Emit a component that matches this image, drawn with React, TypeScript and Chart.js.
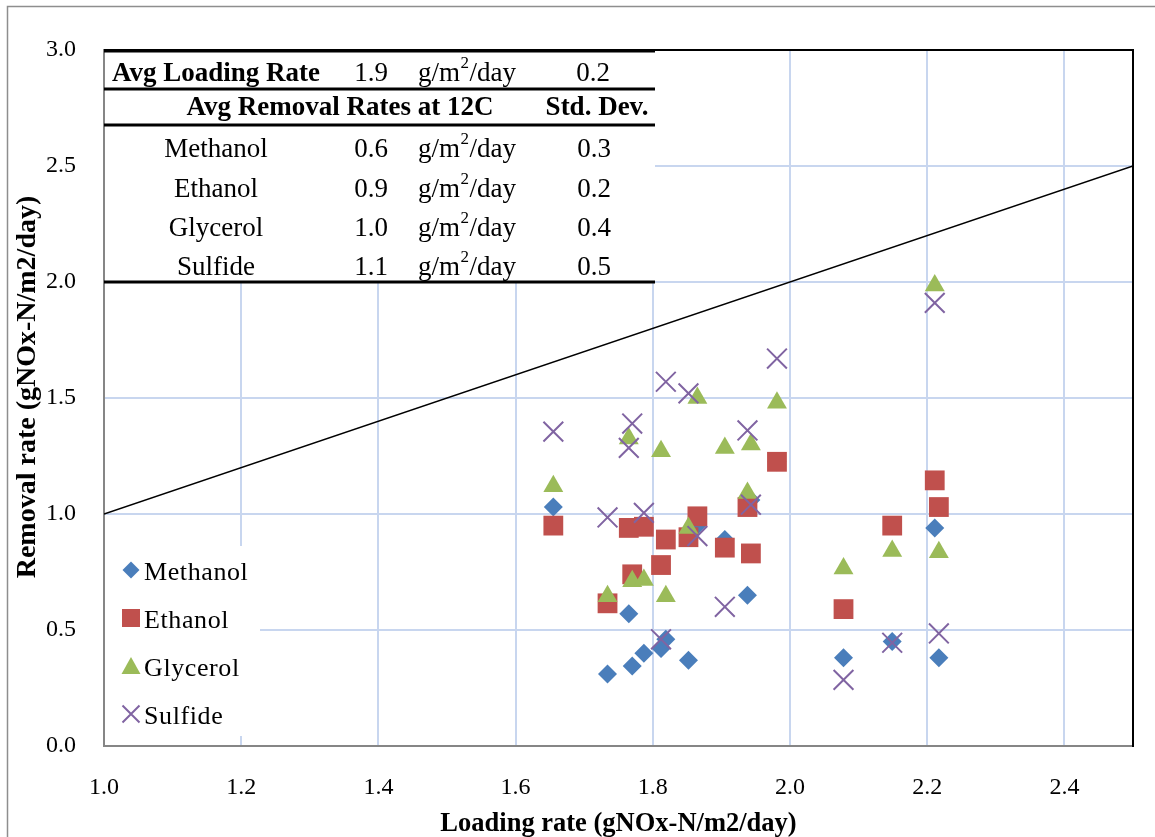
import React, { useEffect, useRef } from 'react';
import { Chart, registerables } from 'chart.js';

Chart.register(...registerables);

// ---- data ----
const loadingRate = [1.655, 1.734, 1.765, 1.77, 1.787, 1.812, 1.819, 1.852, 1.865, 1.905, 1.938, 1.943, 1.981, 2.078, 2.149, 2.211, 2.217];
const methanolRemoval = [1.03, 0.31, 0.57, 0.345, 0.4, 0.42, 0.46, 0.37, 0.95, 0.89, 0.65, 1.06, 1.225, 0.38, 0.45, 0.94, 0.38];
const ethanolRemoval = [0.95, 0.615, 0.94, 0.74, 0.945, 0.78, 0.89, 0.9, 0.99, 0.855, 1.03, 0.83, 1.225, 0.59, 0.95, 1.145, 1.03];
const glycerolRemoval = [1.12, 0.645, 1.325, 0.71, 0.715, 1.27, 0.645, 0.94, 1.5, 1.285, 1.09, 1.3, 1.48, 0.765, 0.84, 1.985, 0.835];
const sulfideRemoval = [1.355, 0.985, 1.285, 1.39, 1.005, 0.46, 1.57, 1.52, 0.905, 0.6, 1.36, 1.04, 1.67, 0.285, 0.445, 1.91, 0.485];
const seriesNames = ['Methanol', 'Ethanol', 'Glycerol', 'Sulfide'];
const seriesColors = ['#4A7EBB', '#C0504D', '#9BBB59', '#8064A2'];
const xTickValues = [1.0, 1.2, 1.4, 1.6, 1.8, 2.0, 2.2, 2.4];
const yTickValues = [0.0, 0.5, 1.0, 1.5, 2.0, 2.5, 3.0];
const oneToOneLine = [1.0, 2.5];
const avgLoadingRow = ['Avg Loading Rate', '1.9', '0.2'];
const removalHeader = ['Avg Removal Rates at 12C', 'Std. Dev.'];
const avgRemovalRate = ['0.6', '0.9', '1.0', '1.1'];
const removalStdDev = ['0.3', '0.2', '0.4', '0.5'];
const xAxisTitle = 'Loading rate (gNOx-N/m2/day)';
const yAxisTitle = 'Removal rate (gNOx-N/m2/day)';

const SERIF = '"Liberation Serif", "Times New Roman", serif';
const FS = 27;

function drawUnit(ctx: CanvasRenderingContext2D, x: number, y: number) {
  ctx.textAlign = 'left';
  ctx.font = `${FS}px ${SERIF}`;
  ctx.fillText('g/m', x, y);
  const w1 = ctx.measureText('g/m').width;
  ctx.font = `17px ${SERIF}`;
  ctx.fillText('2', x + w1 + 0.5, y - 10);
  const w2 = ctx.measureText('2').width;
  ctx.font = `${FS}px ${SERIF}`;
  ctx.fillText('/day', x + w1 + w2 + 1, y);
}

function drawMarker(ctx: CanvasRenderingContext2D, kind: number, x: number, y: number, color: string) {
  ctx.save();
  ctx.fillStyle = color;
  ctx.strokeStyle = color;
  ctx.beginPath();
  if (kind === 0) {
    const r = 8.5;
    ctx.moveTo(x, y - r); ctx.lineTo(x + r, y); ctx.lineTo(x, y + r); ctx.lineTo(x - r, y);
    ctx.closePath(); ctx.fill();
  } else if (kind === 1) {
    ctx.rect(x - 9, y - 9, 18, 18); ctx.fill();
  } else if (kind === 2) {
    ctx.moveTo(x, y - 9); ctx.lineTo(x + 9.5, y + 8); ctx.lineTo(x - 9.5, y + 8);
    ctx.closePath(); ctx.fill();
  } else {
    const r = 8.5;
    ctx.lineWidth = 2;
    ctx.moveTo(x - r, y - r); ctx.lineTo(x + r, y + r);
    ctx.moveTo(x + r, y - r); ctx.lineTo(x - r, y + r);
    ctx.stroke();
  }
  ctx.restore();
}

const overlayPlugin = {
  id: 'overlay',
  afterDraw(chart: any) {
    const ctx: CanvasRenderingContext2D = chart.ctx;
    const { left, right, top, bottom } = chart.chartArea;
    ctx.save();
    // outer border
    ctx.strokeStyle = '#8e8e8e';
    ctx.lineWidth = 1.5;
    ctx.beginPath();
    ctx.moveTo(7.5, 837); ctx.lineTo(7.5, 6.5); ctx.lineTo(1155, 6.5);
    ctx.stroke();

    // top and right plot borders
    ctx.strokeStyle = '#000';
    ctx.lineWidth = 2;
    ctx.beginPath();
    ctx.moveTo(left, top); ctx.lineTo(right, top); ctx.lineTo(right, bottom + 1);
    ctx.stroke();

    // y axis title
    ctx.save();
    ctx.translate(28, 387);
    ctx.rotate(-Math.PI / 2);
    ctx.fillStyle = '#000';
    ctx.font = `bold 28px ${SERIF}`;
    ctx.textAlign = 'center';
    ctx.textBaseline = 'middle';
    ctx.fillText(yAxisTitle, 0, 0);
    ctx.restore();

    // table
    const tL = left, tR = 655;
    ctx.fillStyle = '#fff';
    ctx.fillRect(tL + 1, top + 1, tR - tL - 1, 282 - top - 1);
    ctx.strokeStyle = '#000';
    ctx.lineWidth = 3;
    [51, 89, 125, 282].forEach((yy) => {
      ctx.beginPath(); ctx.moveTo(tL, yy); ctx.lineTo(tR, yy); ctx.stroke();
    });
    ctx.fillStyle = '#000';
    ctx.textBaseline = 'middle';
    ctx.font = `bold ${FS}px ${SERIF}`;
    ctx.textAlign = 'left';
    ctx.fillText(avgLoadingRow[0], 112, 74);
    ctx.font = `${FS}px ${SERIF}`;
    ctx.textAlign = 'center';
    ctx.fillText(avgLoadingRow[1], 371, 74);
    drawUnit(ctx, 418, 74);
    ctx.textAlign = 'center';
    ctx.fillText(avgLoadingRow[2], 593, 74);
    ctx.font = `bold ${FS}px ${SERIF}`;
    ctx.fillText(removalHeader[0], 340, 108);
    ctx.fillText(removalHeader[1], 597, 108);
    const rowY = [150, 190, 229, 268];
    seriesNames.forEach((name, i) => {
      ctx.font = `${FS}px ${SERIF}`;
      ctx.textAlign = 'center';
      ctx.fillText(name, 216, rowY[i]);
      ctx.fillText(avgRemovalRate[i], 371, rowY[i]);
      drawUnit(ctx, 418, rowY[i]);
      ctx.textAlign = 'center';
      ctx.fillText(removalStdDev[i], 594, rowY[i]);
    });

    // legend
    ctx.fillStyle = '#fff';
    ctx.fillRect(left + 1, 546, 259 - left, 190);
    const legY = [570, 618, 666, 714];
    seriesNames.forEach((name, i) => {
      drawMarker(ctx, i, 131, legY[i], seriesColors[i]);
      ctx.fillStyle = '#000';
      ctx.font = `26px ${SERIF}`;
      ctx.textAlign = 'left';
      ctx.textBaseline = 'middle';
      (ctx as any).letterSpacing = '0.6px';
      ctx.fillText(name, 144, legY[i] + 3);
      (ctx as any).letterSpacing = '0px';
    });
    ctx.restore();
  },
};

export default function App() {
  const ref = useRef<HTMLCanvasElement | null>(null);
  useEffect(() => {
    if (!ref.current) return;
    const series = [methanolRemoval, ethanolRemoval, glycerolRemoval, sulfideRemoval];
    const styles = ['rectRot', 'rect', 'triangle', 'crossRot'];
    const radii = [9.5, 14, 11.5, 14];
    const datasets: any[] = series.map((vals, i) => ({
      label: seriesNames[i],
      data: loadingRate.map((x, j) => ({ x, y: vals[j] })),
      pointStyle: styles[i],
      pointRadius: radii[i],
      pointBackgroundColor: seriesColors[i],
      pointBorderColor: seriesColors[i],
      pointBorderWidth: i === 3 ? 2 : 0,
      showLine: false,
      order: 4 - i,
    }));
    datasets.push({
      label: '1:1',
      data: oneToOneLine.map((v) => ({ x: v, y: v })),
      showLine: true,
      borderColor: '#000',
      borderWidth: 1.5,
      pointRadius: 0,
      order: 10,
    });
    const chart = new Chart(ref.current, {
      type: 'scatter',
      data: { datasets },
      options: {
        animation: false,
        responsive: false,
        layout: { padding: { left: 0, top: 50, right: 22, bottom: 0 } },
        plugins: { legend: { display: false }, tooltip: { enabled: false } },
        scales: {
          x: {
            type: 'linear',
            min: 1.0,
            max: 2.5,
            afterBuildTicks: (s: any) => { s.ticks = xTickValues.map((v) => ({ value: v })); },
            afterFit: (s: any) => { s.height = 91; },
            ticks: {
              padding: 27,
              color: '#000',
              font: { family: SERIF, size: 24 },
              callback: (v: any) => Number(v).toFixed(1),
            },
            grid: { color: '#c8d6ef', lineWidth: 2, drawTicks: false },
            border: { color: '#868686', width: 2 },
            title: {
              display: true,
              text: xAxisTitle,
              color: '#000',
              font: { family: SERIF, size: 26.5, weight: 'bold', lineHeight: 1 },
              padding: { top: 0, bottom: 0 },
            },
          },
          y: {
            type: 'linear',
            min: 0,
            max: 3,
            afterBuildTicks: (s: any) => { s.ticks = yTickValues.map((v) => ({ value: v })); },
            afterFit: (s: any) => { s.width = 104; },
            ticks: {
              padding: 28,
              color: '#000',
              font: { family: SERIF, size: 24 },
              callback: (v: any) => Number(v).toFixed(1),
            },
            grid: { color: '#c8d6ef', lineWidth: 2, drawTicks: false },
            border: { color: '#868686', width: 2 },
            title: { display: false },
          },
        },
      },
      plugins: [overlayPlugin],
    } as any);
    return () => chart.destroy();
  }, []);
  return (
    <div style={{ position: 'absolute', left: 0, top: 0, width: 1155, height: 837, background: '#fff' }}>
      <canvas ref={ref} width={1155} height={837} style={{ display: 'block' }} />
    </div>
  );
}
